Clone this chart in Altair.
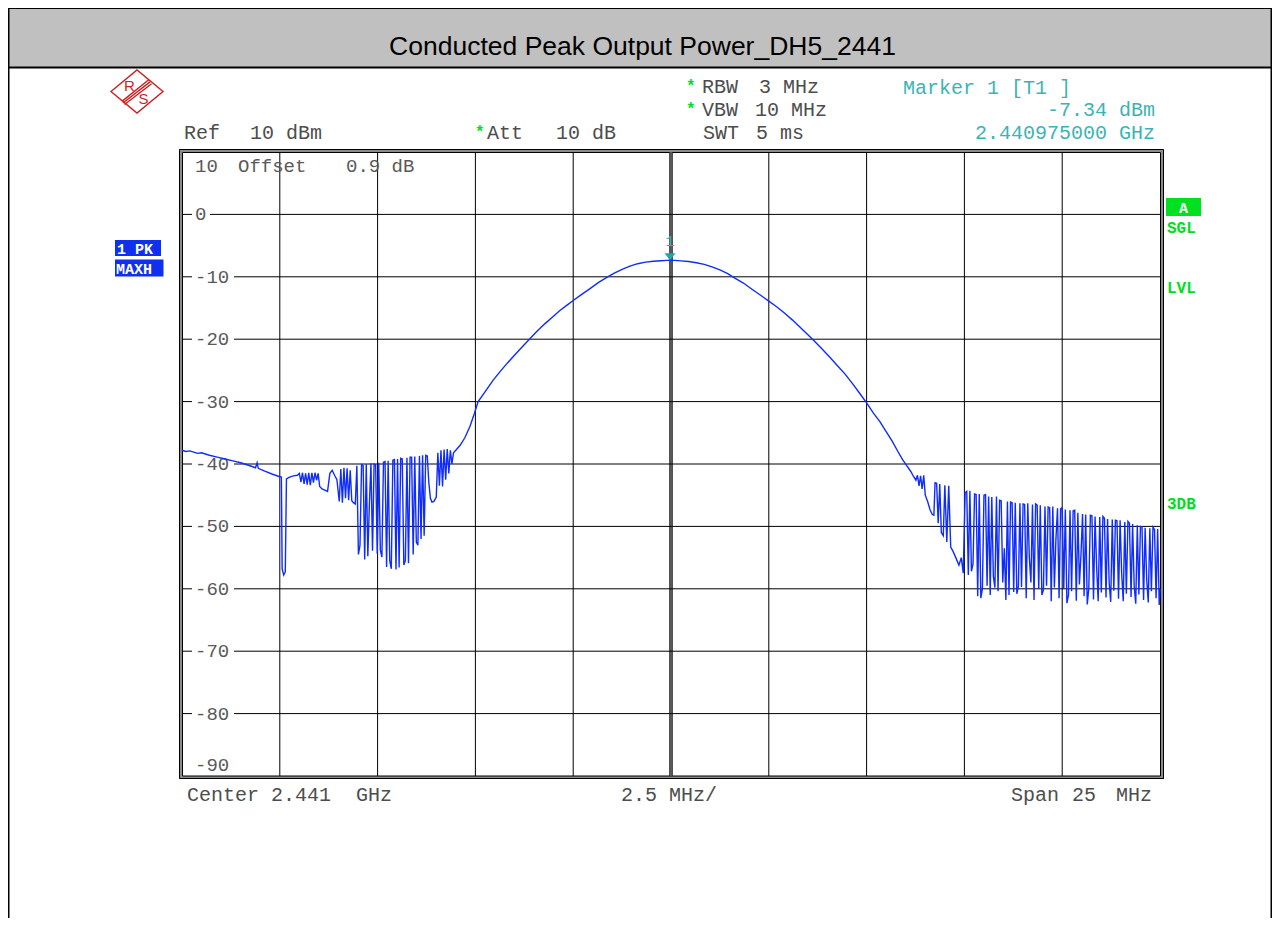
import altair as alt
import pandas as pd

# ---------------- values ----------------
TITLE = "Conducted Peak Output Power_DH5_2441"

# trace segments: (offset from centre in MHz, level in dBm)
left_band = [
    (-12.5, -37.8), (-12.4, -38.0), (-12.3, -37.9), (-12.2, -38.1), (-12.1, -38.3), (-12.0, -38.2),
    (-11.8, -38.6), (-11.6, -38.9), (-11.4, -39.2), (-11.2, -39.5), (-11.0, -39.8), (-10.8, -40.2),
    (-10.62, -40.6), (-10.58, -39.8), (-10.55, -40.7), (-10.4, -41.1), (-10.2, -41.6), (-10.02, -42.0),
    (-9.96, -42.1), (-9.94, -56.8), (-9.9, -57.8), (-9.86, -57.3), (-9.83, -42.4), (-9.75, -42.1),
    (-9.65, -41.9), (-9.55, -41.8),
    (-9.5, -41.5), (-9.46, -42.9), (-9.42, -41.4), (-9.38, -43.2), (-9.34, -41.5), (-9.3, -43.3),
    (-9.26, -41.4), (-9.22, -43.4), (-9.18, -41.4), (-9.14, -43.0), (-9.1, -41.4), (-9.06, -42.6),
    (-9.02, -41.5), (-8.98, -43.6), (-8.92, -44.0), (-8.85, -44.2), (-8.78, -44.4), (-8.72, -41.5),
    (-8.66, -41.0), (-8.6, -41.8), (-8.54, -42.5),
    (-8.48, -46.0), (-8.44, -40.8), (-8.4, -46.2), (-8.36, -40.6), (-8.32, -45.5), (-8.28, -40.7),
    (-8.24, -45.8), (-8.2, -41.0), (-8.16, -45.9), (-8.12, -46.2), (-8.07, -46.4),
    (-8.03, -40.3), (-7.99, -54.5), (-7.95, -53.0), (-7.91, -40.1), (-7.87, -40.2), (-7.83, -55.3),
    (-7.79, -40.0), (-7.75, -54.8), (-7.71, -46.5), (-7.67, -39.9), (-7.63, -53.9), (-7.59, -40.0),
    (-7.55, -40.1), (-7.51, -54.4), (-7.47, -39.8), (-7.43, -53.8), (-7.39, -54.9), (-7.35, -39.7),
    (-7.31, -39.6), (-7.27, -56.5), (-7.23, -39.5), (-7.19, -55.5), (-7.15, -56.8), (-7.11, -39.4),
    (-7.07, -39.3), (-7.03, -56.9), (-6.99, -39.2), (-6.95, -56.6), (-6.91, -39.1), (-6.87, -39.2),
    (-6.83, -56.2), (-6.79, -55.5), (-6.75, -39.0), (-6.71, -55.9), (-6.67, -38.9), (-6.63, -38.9),
    (-6.59, -54.5), (-6.55, -38.8), (-6.51, -52.5), (-6.47, -53.0), (-6.43, -38.7), (-6.39, -52.0),
    (-6.35, -38.6), (-6.31, -51.5), (-6.27, -38.6), (-6.23, -38.7), (-6.19, -43.0), (-6.15, -45.5),
    (-6.11, -46.1), (-6.06, -46.0), (-6.0, -45.3), (-5.96, -38.2), (-5.92, -43.5), (-5.88, -37.8),
    (-5.84, -43.6), (-5.8, -37.7), (-5.76, -42.5), (-5.72, -37.6), (-5.68, -41.5), (-5.64, -37.8),
    (-5.6, -40.0), (-5.56, -38.2),
]

main_lobe = [
    (-5.39, -37.0), (-5.27, -35.8), (-5.14, -34.0), (-5.03, -32.0), (-4.93, -30.0), (-4.75, -28.4),
    (-4.55, -26.6), (-4.37, -25.2), (-4.18, -23.8), (-3.99, -22.5), (-3.8, -21.2), (-3.62, -20.0),
    (-3.42, -18.7), (-3.22, -17.5), (-3.02, -16.4), (-2.84, -15.4), (-2.65, -14.5), (-2.5, -13.8),
    (-2.3, -12.9), (-2.07, -11.9), (-1.85, -10.9), (-1.64, -10.1), (-1.45, -9.4), (-1.25, -8.8),
    (-1.05, -8.3), (-0.85, -7.9), (-0.65, -7.65), (-0.45, -7.5), (-0.25, -7.42), (-0.1, -7.37),
    (-0.025, -7.34), (0.1, -7.37), (0.25, -7.44), (0.45, -7.55), (0.65, -7.75), (0.85, -8.0),
    (1.05, -8.4), (1.25, -8.9), (1.45, -9.5), (1.6, -10.1), (1.85, -11.0), (2.07, -12.0),
    (2.3, -13.0), (2.5, -13.9), (2.7, -14.8), (2.9, -15.8), (3.1, -16.9), (3.3, -18.1),
    (3.5, -19.3), (3.65, -20.2), (3.85, -21.5), (4.05, -22.8), (4.25, -24.2), (4.45, -25.6),
    (4.65, -27.2), (4.85, -28.9), (5.0, -30.2), (5.17, -31.8), (5.34, -33.2), (5.5, -34.8),
    (5.65, -36.3), (5.8, -38.0), (5.92, -39.3), (6.03, -40.3), (6.13, -41.2), (6.2, -42.0),
]

right_band = [
    (6.26, -42.6), (6.3, -41.8), (6.34, -43.5), (6.38, -41.9), (6.42, -44.0), (6.46, -41.8),
    (6.5, -45.0), (6.56, -46.0), (6.62, -47.3), (6.68, -48.1), (6.72, -48.2), (6.75, -43.0),
    (6.79, -43.1), (6.83, -49.5), (6.87, -43.2), (6.91, -51.0), (6.96, -51.5), (7.0, -43.4),
    (7.05, -52.5), (7.1, -43.5), (7.15, -53.3), (7.21, -54.0), (7.28, -55.0), (7.36, -56.2),
    (7.42, -55.0), (7.47, -57.5),
    (7.52, -44.6), (7.56, -44.4), (7.6, -57.8), (7.64, -44.3), (7.68, -57.2), (7.72, -56.0),
    (7.76, -44.8), (7.8, -44.9), (7.84, -61.2), (7.88, -44.8), (7.92, -61.5), (7.96, -60.0),
    (8.0, -45.0), (8.04, -44.9), (8.08, -59.5), (8.12, -45.2), (8.16, -61.0), (8.2, -45.3),
    (8.24, -58.0), (8.28, -59.8), (8.32, -45.2), (8.36, -60.4), (8.4, -45.8), (8.44, -45.9),
    (8.48, -59.0), (8.52, -53.5), (8.56, -61.8), (8.6, -46.0), (8.64, -61.0), (8.68, -46.1),
    (8.72, -46.2), (8.76, -60.5), (8.8, -46.2), (8.84, -60.8), (8.88, -59.6), (8.92, -46.3),
    (8.96, -59.7), (9.0, -46.4), (9.04, -46.5), (9.08, -61.5), (9.12, -46.3), (9.16, -55.0),
    (9.2, -59.0), (9.24, -46.5), (9.28, -61.8), (9.32, -46.4), (9.36, -46.6), (9.4, -60.0),
    (9.44, -46.6), (9.48, -61.0), (9.52, -60.2), (9.56, -46.8), (9.6, -59.5), (9.64, -46.9),
    (9.68, -47.0), (9.72, -62.0), (9.76, -46.8), (9.8, -59.8), (9.84, -52.0), (9.88, -47.1),
    (9.92, -61.5), (9.96, -47.2), (10.0, -47.0), (10.04, -60.0), (10.08, -47.3), (10.12, -62.3),
    (10.16, -61.0), (10.2, -47.4), (10.24, -60.4), (10.28, -47.5), (10.32, -47.4), (10.36, -61.9),
    (10.4, -47.8), (10.44, -59.3), (10.48, -54.5), (10.52, -48.0), (10.56, -61.2), (10.6, -48.1),
    (10.64, -62.5), (10.68, -60.0), (10.72, -48.2), (10.76, -48.3), (10.8, -61.7), (10.84, -48.4),
    (10.88, -56.5), (10.92, -62.0), (10.96, -48.5), (11.0, -60.6), (11.04, -48.4), (11.08, -48.7),
    (11.12, -61.4), (11.16, -48.8), (11.2, -59.0), (11.24, -62.1), (11.28, -48.9), (11.32, -60.3),
    (11.36, -49.0), (11.4, -49.1), (11.44, -61.6), (11.48, -49.0), (11.52, -57.5), (11.56, -62.0),
    (11.6, -49.3), (11.64, -60.8), (11.68, -49.2), (11.72, -49.5), (11.76, -61.3), (11.8, -49.6),
    (11.84, -59.6), (11.88, -62.4), (11.92, -49.8), (11.96, -60.9), (12.0, -50.0), (12.04, -50.1),
    (12.08, -61.8), (12.12, -50.2), (12.16, -58.5), (12.2, -62.2), (12.24, -50.3), (12.28, -60.4),
    (12.32, -50.1), (12.36, -50.5), (12.4, -61.5), (12.44, -50.4), (12.48, -62.6), (12.5, -60.0),
]

marker_freq = [-0.025]
marker_level = [-7.34]

grid_freqs = [-10.0, -7.5, -5.0, -2.5, 2.5, 5.0, 7.5, 10.0]
center_freq = [0.0]
grid_levels = [0, -10, -20, -30, -40, -50, -60, -70, -80]
level_labels = ["0", "-10", "-20", "-30", "-40", "-50", "-60", "-70", "-80"]
top_level_label = "10"
bottom_level_label = "-90"

# ---------------- layout ----------------
X0, Y0 = 182, 152          # page position of the plot origin
PW, PH = 978, 624          # plot size
SVG_W, SVG_H = 1264, 910
PAD = {"left": X0 - 8, "top": Y0 - 8,
       "right": SVG_W - (X0 - 8) - PW, "bottom": SVG_H - (Y0 - 8) - PH}
RIGHT_EDGE = 8 + SVG_W
MONO = "Liberation Mono"
SANS = "Liberation Sans"
F_MIN, F_MAX = -12.5, 12.5


def px(x):
    return x - X0


def py(y):
    return y - Y0


def mhz_at(xpix):  # plot-relative pixel -> MHz
    return F_MIN + xpix * (F_MAX - F_MIN) / PW


xs = alt.Scale(domain=[F_MIN, F_MAX], nice=False, zero=False)
ys = alt.Scale(domain=[-90, 10], nice=False, zero=False)
one = pd.DataFrame({"k": [0]})


def rect(x1, y1, x2, y2, **mk):
    return alt.Chart(one).mark_rect(**mk).encode(
        x=alt.value(px(x1)), x2=alt.value(px(x2)), y=alt.value(py(y1)), y2=alt.value(py(y2)))


def rule(x1, y1, x2, y2, **mk):
    return alt.Chart(one).mark_rule(**mk).encode(
        x=alt.value(px(x1)), x2=alt.value(px(x2)), y=alt.value(py(y1)), y2=alt.value(py(y2)))


TEXT_GRAY = "#4d4d4d"


def txt(s, x, y, size=20, color=TEXT_GRAY, align="left", font=MONO, weight="normal"):
    return alt.Chart(one).mark_text(
        text=s, align=align, baseline="middle", font=font, fontSize=size,
        color=color, fontWeight=weight).encode(x=alt.value(px(x)), y=alt.value(py(y)))


layers = []

# page header and borders
layers.append(rect(8, 8, RIGHT_EDGE, 67, color="#c0c0c0"))
layers.append(rule(8, 8.5, RIGHT_EDGE, 8.5, color="black", strokeWidth=1))
layers.append(rule(8, 67.5, RIGHT_EDGE, 67.5, color="black", strokeWidth=2))
layers.append(rule(8.75, 8, 8.75, 918, color="black", strokeWidth=1.5))
layers.append(rule(RIGHT_EDGE - 0.75, 8, RIGHT_EDGE - 0.75, 918, color="black", strokeWidth=1.5))
layers.append(txt(TITLE, 642.5, 47, size=26.5, color="black", align="center", font=SANS))

# plot frame (double line)
layers.append(rect(180.5, 150.5, 1162.5, 777.5, fillOpacity=0, stroke="#8c8c8c", strokeWidth=3))
layers.append(rect(179.5, 149.5, 1163.5, 778.5, fillOpacity=0, stroke="black", strokeWidth=1))
layers.append(rect(182.5, 152.5, 1160.5, 776, fillOpacity=0, stroke="black", strokeWidth=1))

# vertical grid (centre line drawn double)
layers.append(alt.Chart(pd.DataFrame({"f": grid_freqs})).mark_rule(color="black", strokeWidth=1).encode(
    x=alt.X("f:Q", scale=xs, axis=None), y=alt.value(0), y2=alt.value(PH)))
layers.append(alt.Chart(pd.DataFrame({"f": center_freq})).mark_rule(color="#262626", strokeWidth=3.6).encode(
    x=alt.X("f:Q", scale=xs, axis=None), y=alt.value(0), y2=alt.value(PH)))
layers.append(alt.Chart(pd.DataFrame({"f": center_freq})).mark_rule(color="#8a8a8a", strokeWidth=1).encode(
    x=alt.X("f:Q", scale=xs, axis=None), y=alt.value(0), y2=alt.value(PH)))

# horizontal grid, broken where the level label sits
LABEL_X = 195
CH = 12.0
seg_rows = []
for lv, lab in zip(grid_levels, level_labels):
    seg_rows.append({"level": lv, "f0": F_MIN, "f1": mhz_at(10)})
    seg_rows.append({"level": lv, "f0": mhz_at(px(LABEL_X) + CH * len(lab) + 3), "f1": F_MAX})
layers.append(alt.Chart(pd.DataFrame(seg_rows)).mark_rule(color="black", strokeWidth=1).encode(
    x=alt.X("f0:Q", scale=xs, axis=None), x2="f1:Q", y=alt.Y("level:Q", scale=ys, axis=None)))

# level labels
LABEL_GRAY = "#5a5a5a"
layers.append(alt.Chart(pd.DataFrame({"level": grid_levels, "label": level_labels})).mark_text(
    align="left", baseline="middle", font=MONO, fontSize=19, color=LABEL_GRAY).encode(
    x=alt.value(px(LABEL_X)), y=alt.Y("level:Q", scale=ys, axis=None), text="label:N"))
layers.append(txt(top_level_label, LABEL_X, 166, size=19, color=LABEL_GRAY))
layers.append(txt(bottom_level_label, LABEL_X, 765, size=19, color=LABEL_GRAY))
layers.append(txt("Offset", 238, 166, size=19, color=LABEL_GRAY))
layers.append(txt("0.9 dB", 346, 166, size=19, color=LABEL_GRAY))

# trace
trace = pd.DataFrame(left_band + main_lobe + right_band, columns=["freq", "level"])
layers.append(alt.Chart(trace).mark_line(color="#0f2cff", strokeWidth=1.4).encode(
    x=alt.X("freq:Q", scale=xs, axis=None), y=alt.Y("level:Q", scale=ys, axis=None)))

# marker 1
mk = pd.DataFrame({"freq": marker_freq, "level": marker_level})
layers.append(alt.Chart(mk).mark_point(
    shape="M -1 -1.27 L 1 -1.27 L 0 0 Z", size=121, filled=True, color="#1fa5a5", opacity=1).encode(
    x=alt.X("freq:Q", scale=xs, axis=None), y=alt.Y("level:Q", scale=ys, axis=None)))
layers.append(alt.Chart(mk).mark_text(
    text="1", dy=-19, font=MONO, fontSize=15, color="#35b0b0").encode(
    x=alt.X("freq:Q", scale=xs, axis=None), y=alt.Y("level:Q", scale=ys, axis=None)))

# instrument settings text
GREEN = "#00dd22"
TEAL = "#3cb4b4"
layers += [
    txt("*", 686, 86, size=16, color=GREEN, weight="bold"),
    txt("*", 686, 109, size=16, color=GREEN, weight="bold"),
    txt("*", 475, 132, size=16, color=GREEN, weight="bold"),
    txt("RBW", 702, 87), txt("3 MHz", 759, 87),
    txt("VBW", 702, 110), txt("10 MHz", 755, 110),
    txt("SWT", 703, 133), txt("5 ms", 756, 133),
    txt("Ref", 184, 133), txt("10 dBm", 250, 133),
    txt("Att", 487, 133), txt("10 dB", 556, 133),
    txt("Marker 1 [T1 ]", 903, 88, color=TEAL),
    txt("-7.34 dBm", 1155, 110, color=TEAL, align="right"),
    txt("2.440975000 GHz", 1155, 133, color=TEAL, align="right"),
    txt("Center", 187, 795), txt("2.441", 271, 795), txt("GHz", 356, 795),
    txt("2.5 MHz/", 621, 795),
    txt("Span", 1011, 795), txt("25", 1072, 795), txt("MHz", 1116, 795),
]

# trace status boxes
BLUE = "#1030f0"
layers += [
    rect(115, 240, 161, 256, color=BLUE),
    rect(115, 259.5, 163.5, 276.5, color=BLUE),
    txt("1 PK", 117, 248.5, size=15, color="white", weight="bold"),
    txt("MAXH", 116, 268.5, size=15, color="white", weight="bold"),
    rect(1166, 198, 1201, 216, color="#00e020"),
    txt("A", 1183.5, 207.5, size=15, color="white", weight="bold", align="center"),
    txt("SGL", 1167, 227.5, size=16, color=GREEN, weight="bold"),
    txt("LVL", 1167, 288, size=16, color=GREEN, weight="bold"),
    txt("3DB", 1167, 504, size=16, color=GREEN, weight="bold"),
]

# R&S logo
RED = "#cc1f1f"
layers.append(alt.Chart(one).mark_point(
    shape=("M -1 0 L 0 -0.83 L 1 0 L 0 0.83 Z "
           "M 0.44 -0.44 L -0.58 0.38 M 0.5 -0.37 L -0.54 0.44 M 0.56 -0.3 L -0.48 0.5"),
    size=2704, filled=False, stroke=RED, strokeWidth=1.4, opacity=1).encode(
    x=alt.value(px(137)), y=alt.value(py(91.5))))
layers.append(txt("R", 129.5, 86, size=15, color=RED, font=SANS, align="center"))
layers.append(txt("S", 143.5, 98.5, size=15, color=RED, font=SANS, align="center"))

chart = alt.layer(*layers).properties(
    width=PW, height=PH, padding=PAD,
    autosize=alt.AutoSizeParams(type="none"),
).configure_view(strokeWidth=0).configure(background="white")

chart.save("out.html", embed_options={"renderer": "svg", "actions": False})
